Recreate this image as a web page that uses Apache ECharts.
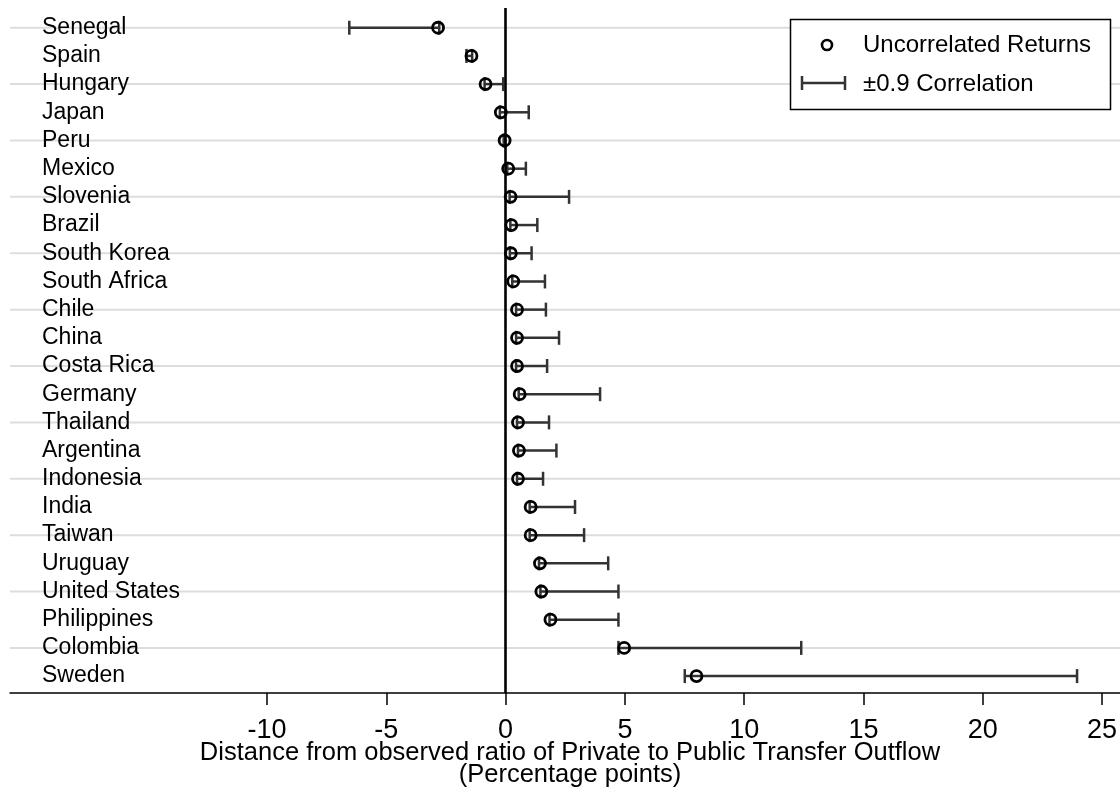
<!DOCTYPE html>
<html>
<head>
<meta charset="utf-8">
<script src="https://cdn.jsdelivr.net/npm/echarts@6/dist/echarts.min.js"></script>
<style>
html,body{margin:0;padding:0;background:#fff;}
#chart{width:1120px;height:794px;}
</style>
</head>
<body>
<div id="chart"></div>
<script>
const countries = ["Senegal","Spain","Hungary","Japan","Peru","Mexico","Slovenia","Brazil","South Korea","South Africa","Chile","China","Costa Rica","Germany","Thailand","Argentina","Indonesia","India","Taiwan","Uruguay","United States","Philippines","Colombia","Sweden"];
const uncorrelated = [-2.83,-1.43,-0.84,-0.2,-0.04,0.11,0.21,0.24,0.22,0.32,0.48,0.48,0.48,0.59,0.52,0.56,0.52,1.05,1.05,1.44,1.5,1.88,4.97,8.0];
const corrLow = [-6.55,-1.64,-0.88,-0.24,-0.08,0.07,0.17,0.2,0.18,0.28,0.44,0.44,0.44,0.55,0.48,0.52,0.48,1.01,1.01,1.4,1.46,1.84,4.73,7.51];
const corrHigh = [-2.78,-1.4,-0.1,0.97,-0.02,0.85,2.66,1.33,1.09,1.65,1.69,2.24,1.74,3.96,1.82,2.13,1.57,2.91,3.29,4.30,4.73,4.73,12.39,23.95];
const xTicks = [-10,-5,0,5,10,15,20,25];
const legendNames = ["Uncorrelated Returns","\u00b10.9 Correlation"];
const axisTitle = "Distance from observed ratio of Private to Public Transfer Outflow\n(Percentage points)";

const FONT = '"Liberation Sans", Arial, Helvetica, sans-serif';
const chart = echarts.init(document.getElementById('chart'), null, {renderer:'canvas'});

const option = {
  animation: false,
  backgroundColor: '#fff',
  textStyle: {fontFamily: FONT},
  grid: {left: 10, right: 0, top: 8, bottom: 101, containLabel: false, outerBoundsMode: 'none'},
  xAxis: {
    type: 'value', min: -20.77, max: 25.75,
    axisLine: {show: true, onZero: false, lineStyle: {color: '#000', width: 1.5}},
    axisTick: {show: true, length: 12, lineStyle: {color: '#000', width: 1.5}, customValues: xTicks},
    axisLabel: {color: '#000', fontSize: 27, fontFamily: FONT, margin: 24, customValues: xTicks},
    splitLine: {show: false},
    name: axisTitle, nameLocation: 'middle', nameGap: 49, nameMoveOverlap: false,
    nameTextStyle: {color: '#000', fontSize: 25.5, fontFamily: FONT, lineHeight: 22, align: 'center', verticalAlign: 'top', padding: [0,0,0,10]}
  },
  yAxis: {type: 'value', inverse: true, min: -0.7, max: 23.6, show: false},
  series: [
    {
      type: 'custom', name: 'grid', silent: true, z: 1,
      data: countries.map((c, i) => [i]).filter(d => d[0] % 2 === 0),
      renderItem: function (params, api) {
        const cs = params.coordSys;
        const y = api.coord([0, api.value(0)])[1];
        return {type: 'line', shape: {x1: cs.x, y1: y, x2: cs.x + cs.width, y2: y},
          style: {stroke: '#dddddd', lineWidth: 2}};
      }
    },
    {
      type: 'custom', name: 'labels', silent: true, z: 3,
      data: countries.map((c, i) => [i]),
      renderItem: function (params, api) {
        const cs = params.coordSys;
        const y = api.coord([0, api.value(0)])[1];
        return {type: 'text', x: cs.x + 32, y: y,
          style: {text: countries[params.dataIndex], fill: '#000', font: '23px ' + FONT, textAlign: 'left', textVerticalAlign: 'middle'}};
      }
    },
    {
      type: 'custom', name: legendNames[1], z: 4,
      data: countries.map((c, i) => [i, corrLow[i], corrHigh[i]]),
      encode: {x: [1, 2], y: 0},
      renderItem: function (params, api) {
        const y = api.value(0);
        const p1 = api.coord([api.value(1), y]);
        const p2 = api.coord([api.value(2), y]);
        const st = {stroke: '#333333', lineWidth: 2.5};
        const h = 7;
        return {type: 'group', children: [
          {type: 'line', shape: {x1: p1[0], y1: p1[1], x2: p2[0], y2: p2[1]}, style: st},
          {type: 'line', shape: {x1: p1[0], y1: p1[1] - h, x2: p1[0], y2: p1[1] + h}, style: st},
          {type: 'line', shape: {x1: p2[0], y1: p2[1] - h, x2: p2[0], y2: p2[1] + h}, style: st}
        ]};
      }
    },
    {
      type: 'scatter', name: legendNames[0], z: 5,
      data: countries.map((c, i) => [uncorrelated[i], i]),
      symbol: 'circle', symbolSize: 11,
      itemStyle: {color: 'rgba(0,0,0,0)', borderColor: '#000', borderWidth: 2.8, opacity: 1},
      markLine: {
        silent: true, symbol: ['none', 'none'], label: {show: false},
        lineStyle: {color: '#000', width: 2.6, type: 'solid'},
        data: [{xAxis: 0}]
      }
    }
  ],
  graphic: [
    {type: 'rect', z: 100, shape: {x: 790.5, y: 19.5, width: 320, height: 90},
      style: {fill: '#fff', stroke: '#000', lineWidth: 1.5}},
    {type: 'circle', z: 101, shape: {cx: 827, cy: 45, r: 5},
      style: {fill: 'rgba(0,0,0,0)', stroke: '#000', lineWidth: 2.6}},
    {type: 'text', z: 101, x: 863, y: 45,
      style: {text: legendNames[0], fill: '#000', font: '24px ' + FONT, textVerticalAlign: 'middle'}},
    {type: 'line', z: 101, shape: {x1: 802, y1: 83, x2: 845, y2: 83}, style: {stroke: '#333', lineWidth: 2.5}},
    {type: 'line', z: 101, shape: {x1: 802, y1: 76, x2: 802, y2: 90}, style: {stroke: '#333', lineWidth: 2.5}},
    {type: 'line', z: 101, shape: {x1: 845, y1: 76, x2: 845, y2: 90}, style: {stroke: '#333', lineWidth: 2.5}},
    {type: 'text', z: 101, x: 863, y: 84,
      style: {text: legendNames[1], fill: '#000', font: '24px ' + FONT, textVerticalAlign: 'middle'}}
  ]
};
chart.setOption(option);
</script>
</body>
</html>
